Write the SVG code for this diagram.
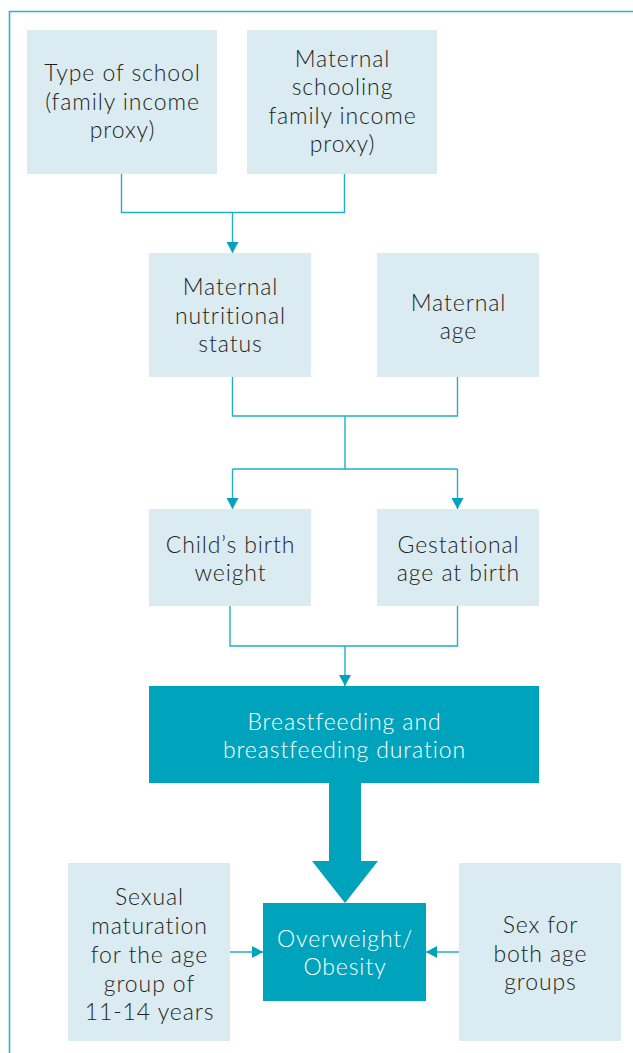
<svg xmlns="http://www.w3.org/2000/svg" width="633" height="1053" viewBox="0 0 633 1053">
<style>
.box{fill:#dbebf2}
.dark{fill:#00a3bc}
.t{font-family:Lato,"Open Sans","Liberation Sans",sans-serif;font-weight:300;font-size:23px;letter-spacing:0.9px;fill:#231f20;text-anchor:middle}
.w{fill:#ffffff}
.ln{fill:none;stroke:#1eb0c6;stroke-width:1.4}
.frame{fill:none;stroke:#2bb4ca;stroke-width:1.6}
</style>
<defs>
<marker id="ah" viewBox="0 0 11 12" refX="11" refY="6" markerWidth="11" markerHeight="12" markerUnits="userSpaceOnUse" orient="auto">
<path d="M0,0 L11,6 L0,12 Z" fill="#00a3bc"/>
</marker>
</defs>
<rect width="633" height="1053" fill="#ffffff"/>
<path class="frame" d="M633,11.5 H9.5 V1053"/>

<g id="connectors">
<path class="ln" d="M121.5,174 V212.5 H344.5 V174"/>
<path class="ln" d="M232.5,212.5 V253" marker-end="url(#ah)"/>
<path class="ln" d="M232.5,377 V416 H457.5 V377"/>
<path class="ln" d="M345,416 V469"/>
<path class="ln" d="M232.5,469 H457.5"/>
<path class="ln" d="M232.5,469 V509" marker-end="url(#ah)"/>
<path class="ln" d="M457.5,469 V509" marker-end="url(#ah)"/>
<path class="ln" d="M230,606 V646 H457.5 V606"/>
<path class="ln" d="M345,646 V686" marker-end="url(#ah)"/>
<path class="dark" d="M329,783 H361 V861 H378 L345,903 L312,861 H329 Z"/>
<path class="ln" d="M230,952 H263" marker-end="url(#ah)"/>
<path class="ln" d="M459,952 H426" marker-end="url(#ah)"/>
</g>

<g id="type-of-school">
<rect class="box" x="27" y="30" width="190" height="144"/>
<text class="t" x="122.5" y="81">Type of school</text>
<text class="t" x="122.5" y="109.5">(family income</text>
<text class="t" x="122.5" y="138">proxy)</text>
</g>
<g id="maternal-schooling">
<rect class="box" x="247" y="30" width="190" height="144"/>
<text class="t" x="342.5" y="66.5">Maternal</text>
<text class="t" x="342.5" y="95">schooling</text>
<text class="t" x="342.5" y="123.5">family income</text>
<text class="t" x="342.5" y="152">proxy)</text>
</g>
<g id="maternal-nutritional-status">
<rect class="box" x="149" y="253" width="162" height="124"/>
<text class="t" x="230.5" y="295">Maternal</text>
<text class="t" x="230.5" y="323.5">nutritional</text>
<text class="t" x="230.5" y="352">status</text>
</g>
<g id="maternal-age">
<rect class="box" x="377" y="253" width="162" height="124"/>
<text class="t" x="458.5" y="310.5">Maternal</text>
<text class="t" x="458.5" y="339">age</text>
</g>
<g id="birth-weight">
<rect class="box" x="149" y="509" width="162" height="97"/>
<text class="t" x="230.5" y="552.5">Child’s birth</text>
<text class="t" x="230.5" y="581">weight</text>
</g>
<g id="gestational-age">
<rect class="box" x="377" y="509" width="162" height="97"/>
<text class="t" x="458.5" y="552.5">Gestational</text>
<text class="t" x="458.5" y="581">age at birth</text>
</g>
<g id="breastfeeding">
<rect class="dark" x="149" y="686" width="390" height="97"/>
<text class="t w" x="344.5" y="729.5">Breastfeeding and</text>
<text class="t w" x="344.5" y="758">breastfeeding duration</text>
</g>
<g id="sexual-maturation">
<rect class="box" x="68" y="863" width="162" height="178"/>
<text class="t" x="149.5" y="905">Sexual</text>
<text class="t" x="149.5" y="934">maturation</text>
<text class="t" x="149.5" y="963">for the age</text>
<text class="t" x="149.5" y="991.5">group of</text>
<text class="t" x="149.5" y="1020">11-14 years</text>
</g>
<g id="overweight-obesity">
<rect class="dark" x="263" y="903" width="163" height="98"/>
<text class="t w" x="345" y="946.5">Overweight/</text>
<text class="t w" x="345" y="975">Obesity</text>
</g>
<g id="sex">
<rect class="box" x="459" y="863" width="162" height="178"/>
<text class="t" x="540.5" y="933">Sex for</text>
<text class="t" x="540.5" y="962">both age</text>
<text class="t" x="540.5" y="990">groups</text>
</g>
</svg>
